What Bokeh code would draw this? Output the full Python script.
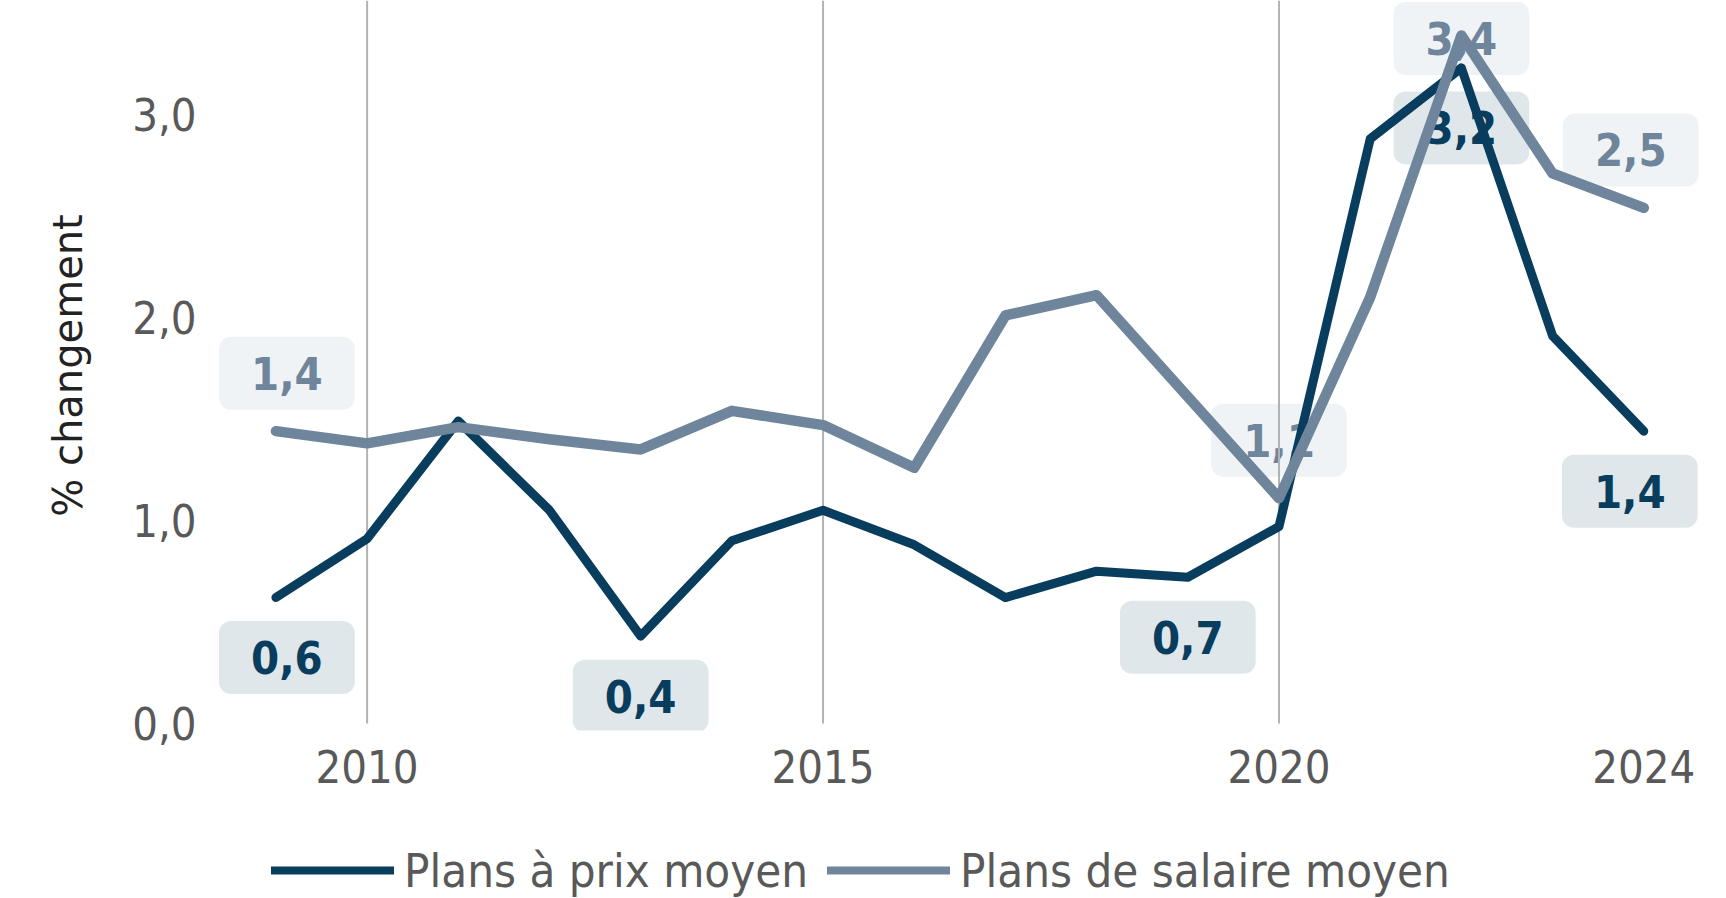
from bokeh.plotting import figure
from bokeh.layouts import column
from bokeh.models import Range1d, FixedTicker, Label, Legend, LegendItem
from bokeh.embed import file_html
from bokeh.resources import INLINE

# ---- data ----
years = list(range(2009, 2025))
prix = [0.62, 0.91, 1.49, 1.05, 0.43, 0.90, 1.05, 0.88, 0.62, 0.75, 0.72, 0.97, 2.88, 3.23, 1.91, 1.44]
salaire = [1.44, 1.38, 1.46, 1.40, 1.35, 1.54, 1.47, 1.26, 2.01, 2.11, 1.61, 1.11, 2.10, 3.39, 2.71, 2.54]
series_names = ["Plans à prix moyen", "Plans de salaire moyen"]
x_ticks = [2010, 2015, 2020, 2024]
x_grid_ticks = [2010, 2015, 2020]
y_ticks = [0, 1, 2, 3]
y_tick_labels = ["0,0", "1,0", "2,0", "3,0"]
prix_label_years = [2009, 2013, 2019, 2022, 2024]
salaire_label_years = [2009, 2020, 2022, 2024]

# ---- style ----
DARK = "#083d5e"
LIGHT = "#6e859b"
TICK_FONT = "'DejaVu Sans Condensed', 'DejaVu Sans'"
TICK_COLOR = "#595959"
W, MAIN_H, LEG_H = 1726, 842, 56
Y_TOP = 3.562

p = figure(width=W, height=MAIN_H, output_backend="svg", toolbar_location=None,
           x_range=Range1d(2008.173, 2024.71), y_range=Range1d(-0.035, Y_TOP),
           min_border_left=200, min_border_right=18, min_border_top=0, min_border_bottom=112)
p.outline_line_color = None
p.background_fill_color = "white"
p.border_fill_color = "white"

# axes
p.xaxis.ticker = FixedTicker(ticks=x_ticks)
p.yaxis.ticker = FixedTicker(ticks=y_ticks)
p.yaxis.major_label_overrides = {t: l for t, l in zip(y_ticks, y_tick_labels)}
for ax in (p.xaxis[0], p.yaxis[0]):
    ax.axis_line_color = None
    ax.major_tick_line_color = None
    ax.minor_tick_line_color = None
    ax.major_tick_out = 0
    ax.major_tick_in = 0
    ax.major_label_text_font = TICK_FONT
    ax.major_label_text_font_size = "45px"
    ax.major_label_text_color = TICK_COLOR
p.xaxis.major_label_standoff = 19
p.yaxis.major_label_standoff = 4
p.yaxis.axis_label = "% changement"
p.yaxis.axis_label_text_font = "DejaVu Sans"
p.yaxis.axis_label_text_font_style = "normal"
p.yaxis.axis_label_text_font_size = "40px"
p.yaxis.axis_label_text_color = "#222222"
p.yaxis.axis_label_standoff = 38

# vertical grid lines, from 0 up to the top of the plot
p.grid.visible = False
p.segment(x0=x_grid_ticks, y0=[0] * len(x_grid_ticks), x1=x_grid_ticks, y1=[Y_TOP] * len(x_grid_ticks),
          line_color="#b3b3b3", line_width=2)

# value labels (drawn beneath the lines)
def fmt(v):
    return f"{v:.1f}".replace(".", ",")

label_specs = [
    (prix, prix_label_years, DARK, "#dde4e8", -60,
     {2009: (11, 0), 2024: (-14, 0)}),
    (salaire, salaire_label_years, LIGHT, "#eef2f5", 58,
     {2009: (11, 0), 2022: (0, -61), 2024: (-13, 0)}),
]
for vals, lyears, tcol, bcol, yoff, adj in label_specs:
    for yr in lyears:
        v = vals[years.index(yr)]
        dx, dy = adj.get(yr, (0, 0))
        lab = Label(x=yr, y=v, text=fmt(v), x_offset=dx, y_offset=yoff + dy,
                    text_align="center", text_baseline="middle",
                    text_font=TICK_FONT, text_font_style="bold", text_font_size="45px",
                    text_color=tcol, background_fill_color=bcol, background_fill_alpha=0.9,
                    border_radius=12, padding=(32, 32, 20, 20), level="image")
        p.add_layout(lab)

line_styles = [dict(line_color=DARK, line_width=9), dict(line_color=LIGHT, line_width=10.5)]
for vals, st in zip([prix, salaire], line_styles):
    p.line(years, vals, line_join="round", line_cap="round", **st)

# ---- legend strip (same series, view window kept away from the data) ----
lg = figure(width=W, height=LEG_H, output_backend="svg", toolbar_location=None,
            x_range=Range1d(0, 1), y_range=Range1d(0, 1),
            min_border=0, x_axis_location=None, y_axis_location=None)
lg.outline_line_color = None
lg.grid.visible = False
leg_renderers = [lg.line(years, vals, line_join="round", line_cap="round",
                         **dict(st, line_width=8))
                 for vals, st in zip([prix, salaire], line_styles)]
legend = Legend(items=[LegendItem(label=n, renderers=[r]) for n, r in zip(series_names, leg_renderers)],
                orientation="horizontal", location=(71, 0),
                glyph_width=123, glyph_height=LEG_H, label_height=LEG_H, label_standoff=10, spacing=19,
                label_text_font=TICK_FONT, label_text_font_size="47px",
                label_text_color=TICK_COLOR, border_line_color=None,
                background_fill_alpha=0, padding=0, margin=0)
lg.add_layout(legend, "center")

open("out.html", "w").write(file_html(column(p, lg, spacing=0), INLINE))
